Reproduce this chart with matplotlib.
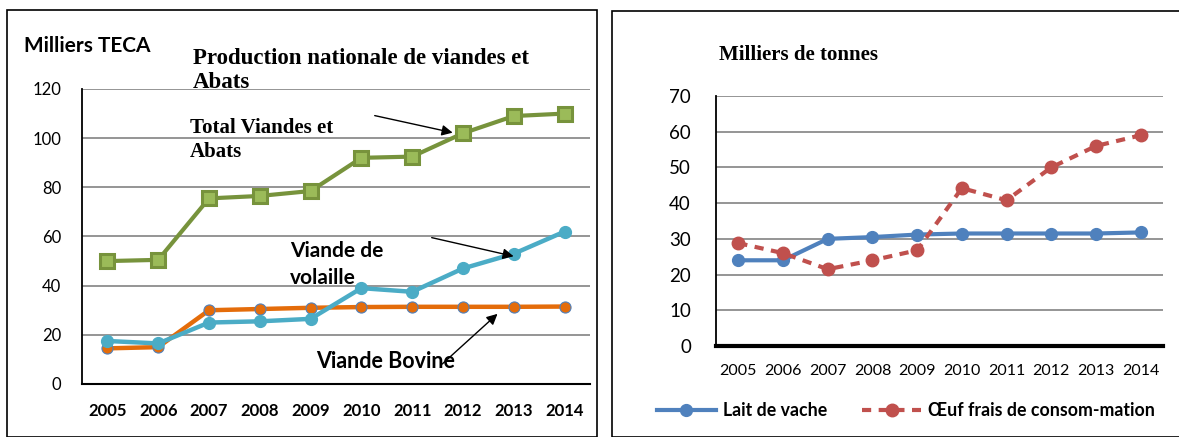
import matplotlib
matplotlib.use("Agg")
import matplotlib.pyplot as plt
from matplotlib.patches import Rectangle

years = ["2005", "2006", "2007", "2008", "2009", "2010", "2011", "2012", "2013", "2014"]

# viandes (milliers TECA)
total_viandes = [50, 50.5, 75.5, 76.5, 78.5, 92, 92.5, 102, 109, 110]
volaille = [17.5, 16.5, 25, 25.5, 26.5, 39, 37.5, 47, 53, 62]
bovine = [14.5, 15, 30, 30.5, 31, 31.3, 31.4, 31.4, 31.4, 31.5]

# lait et oeufs (milliers de tonnes)
lait = [24, 24, 30, 30.5, 31.2, 31.5, 31.5, 31.5, 31.5, 31.8]
oeuf = [28.8, 26, 21.5, 24, 26.8, 44.2, 40.8, 50, 56, 59]

W, H = 1179, 437
def fp(px, py):
    return (px / W, 1 - py / H)

SANS = "Lato"
SERIF = "Liberation Serif"

fig = plt.figure(figsize=(11.79, 4.37), dpi=100)
fig.patch.set_facecolor("white")

# panel frames
fig.patches.append(Rectangle(fp(7, 437), (597 - 7) / W, (437 - 10) / H, transform=fig.transFigure,
                             fill=False, edgecolor="black", linewidth=1.2))
fig.patches.append(Rectangle(fp(612, 437), (1185 - 612) / W, (437 - 11) / H, transform=fig.transFigure,
                             fill=False, edgecolor="black", linewidth=1.2))

x = list(range(len(years)))

# ---------- left chart ----------
ax1 = fig.add_axes([82 / W, 1 - 384 / H, (590 - 82) / W, (384 - 89) / H])
ax1.set_xlim(-0.5, 9.5)
ax1.set_ylim(0, 120)
ax1.set_yticks(range(0, 121, 20))
ax1.yaxis.grid(True, color="#8c8c8c", linewidth=1.3)
ax1.set_axisbelow(True)
for s in ["top", "right"]:
    ax1.spines[s].set_visible(False)
ax1.spines["left"].set_linewidth(1.3)
ax1.spines["bottom"].set_linewidth(1.5)
ax1.tick_params(length=0, pad=15)
ax1.set_xticks(x)
ax1.set_xticklabels(years, fontweight="bold", fontfamily=SANS, fontsize=12)
for t in ax1.get_yticklabels():
    t.set_fontfamily(SANS)
    t.set_fontsize(12)
ax1.tick_params(axis="x", pad=14)

ax1.plot(x, bovine, color="#E46C0A", linewidth=3.2, marker="o", markersize=8,
         markerfacecolor="#E46C0A", markeredgecolor="#4F81BD", markeredgewidth=0.8, clip_on=False)
ax1.plot(x, volaille, color="#4BACC6", linewidth=3.2, marker="o", markersize=8.5,
         markerfacecolor="#4BACC6", markeredgecolor="#4BACC6", clip_on=False)
ax1.plot(x, total_viandes, color="#77933C", linewidth=3, marker="s", markersize=10,
         markerfacecolor="#9BBB59", markeredgecolor="#77933C", markeredgewidth=2.2, clip_on=False)

fig.text(*fp(24, 46), "Milliers TECA", fontfamily=SANS, fontweight="bold", fontsize=15, va="center")
fig.text(*fp(193, 48), "Production nationale de viandes et\nAbats", fontfamily=SERIF,
         fontweight="bold", fontsize=16.5, va="top", linespacing=1.2)
fig.text(*fp(190, 118), "Total Viandes et\nAbats", fontfamily=SERIF,
         fontweight="bold", fontsize=15, va="top", linespacing=1.25)
fig.text(*fp(290, 241), "Viande de\nvolaille", fontfamily=SANS,
         fontweight="bold", fontsize=15, va="top", linespacing=1.45)
fig.text(*fp(316, 362), "Viande Bovine", fontfamily=SANS,
         fontweight="bold", fontsize=15.5, va="center")

arrow = dict(arrowstyle="-|>", color="black", linewidth=1, mutation_scale=16)
ax1.annotate("", xy=(6.85, 102), xytext=fp(372, 115), textcoords="figure fraction", arrowprops=arrow)
ax1.annotate("", xy=(8.05, 51.7), xytext=fp(429, 237), textcoords="figure fraction", arrowprops=arrow)
ax1.annotate("", xy=(7.72, 29.3), xytext=fp(440, 366), textcoords="figure fraction", arrowprops=arrow)

# ---------- right chart ----------
ax2 = fig.add_axes([716 / W, 1 - 346 / H, (1163 - 716) / W, (346 - 96) / H])
ax2.set_xlim(-0.5, 9.5)
ax2.set_ylim(0, 70)
ax2.set_yticks(range(0, 71, 10))
ax2.yaxis.grid(True, color="#8c8c8c", linewidth=1.3)
ax2.set_axisbelow(True)
for s in ["top", "right"]:
    ax2.spines[s].set_visible(False)
ax2.spines["left"].set_linewidth(1.3)
ax2.spines["bottom"].set_linewidth(3)
ax2.tick_params(length=0, pad=18)
ax2.set_xticks(x)
ax2.set_xticklabels(years, fontfamily=SANS, fontsize=11.5)
for t in ax2.get_yticklabels():
    t.set_fontfamily(SANS)
    t.set_fontsize(13.5)
ax2.tick_params(axis="x", pad=13)

ax2.plot(x, lait, color="#4F81BD", linewidth=3, marker="o", markersize=8.5,
         label="Lait de vache", clip_on=False)
ax2.plot(x, oeuf, color="#C0504D", linewidth=3, linestyle=(0, (2.2, 1.8)), marker="o", markersize=9,
         label="Œuf frais de consom-mation", clip_on=False)

fig.text(*fp(719, 55), "Milliers de tonnes", fontfamily=SERIF, fontweight="bold", fontsize=15, va="center")

leg = fig.legend(loc="center", bbox_to_anchor=fp(906, 411), ncol=2, frameon=False,
                 handlelength=3.3, columnspacing=2.0, handletextpad=0.4,
                 prop={"family": SANS, "weight": "bold", "size": 12.8})

fig.savefig("out.png", dpi=100)
